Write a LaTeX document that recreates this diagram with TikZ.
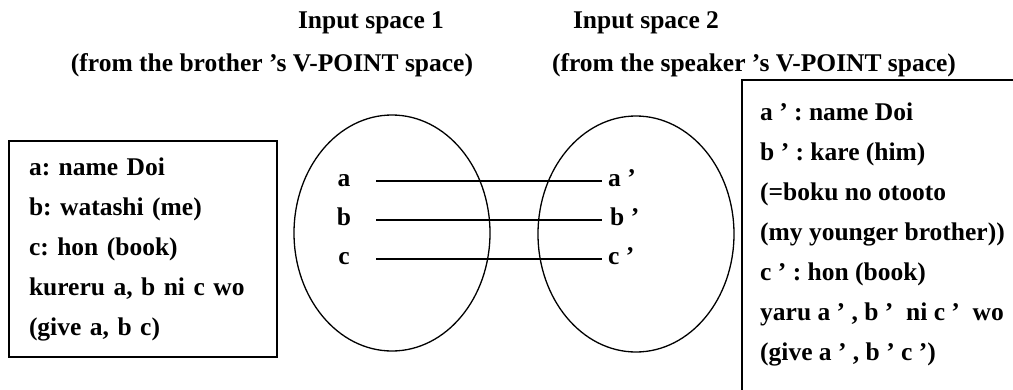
\documentclass[tikz,border=0pt]{standalone}
\usepackage{fontspec}
\setmainfont{Liberation Serif}
\frenchspacing
\usetikzlibrary{shapes.geometric}
\tikzset{
  txt/.style={inner sep=0pt, font=\fontsize{25.5}{40}\selectfont\bfseries},
  boxline/.style={draw, line width=1.6pt},
  notebox/.style={txt, boxline, align=left, inner xsep=20pt,
                  text width=228pt, minimum height=216pt},
  notes/.style={txt, align=left},
  space/.style={ellipse, draw, line width=1.3pt, inner sep=0pt,
                minimum width=196pt, minimum height=236pt},
  elem/.style={txt, text height=11.7pt, text depth=0pt},
  link/.style={line width=1.3pt},
}
\begin{document}
\begin{tikzpicture}[x=1pt, y=-1pt]
  \useasboundingbox (0,0) rectangle (1013,389);

  % headers
  \node[txt] (in1)  at (371,23) {Input space 1};
  \node[txt] (in1v) at (272,65) {(from the brother ’s V-POINT space)};
  \node[txt] (in2)  at (646,23) {Input space 2};
  \node[txt] (in2v) at (754,65) {(from the speaker ’s V-POINT space)};

  % left notes
  \node[notebox] (lnotes) at (143,249) {a: name Doi\\
    b: watashi (me)\\
    c: hon (book)\\
    kureru a, b ni c wo\\
    (give a, b c)};

  % the two spaces
  \node[space] (sp1) at (392,233) {};
  \node[space] (sp2) at (636,234) {};

  \node[elem] (a) at (344,181) {a};
  \node[elem] (b) at (344,220) {b};
  \node[elem] (c) at (344,259) {c};
  \node[elem, anchor=west, inner xsep=6pt] (a2) at (602,181) {a ’};
  \node[elem, anchor=west, inner xsep=8pt] (b2) at (602,220) {b ’};
  \node[elem, anchor=west, inner xsep=6pt] (c2) at (602,259) {c ’};

  \draw[link] ([xshift=32pt]a.center) -- (a2.west);
  \draw[link] ([xshift=32pt]b.center) -- (b2.west);
  \draw[link] ([xshift=32pt]c.center) -- (c2.west);

  % right notes (box runs off the page)
  \draw[boxline] (742,80) rectangle (1040,420);
  \node[notes, anchor=north west] (rnotes) at (760,103) {a ’ : name Doi\\
    b ’ : kare (him)\\
    (=boku no otooto\\
    (my younger brother))\\
    c ’ : hon (book)\\
    yaru a ’ , b ’~~ni c ’~~wo\\
    (give a ’ , b ’ c ’)};
\end{tikzpicture}
\end{document}
